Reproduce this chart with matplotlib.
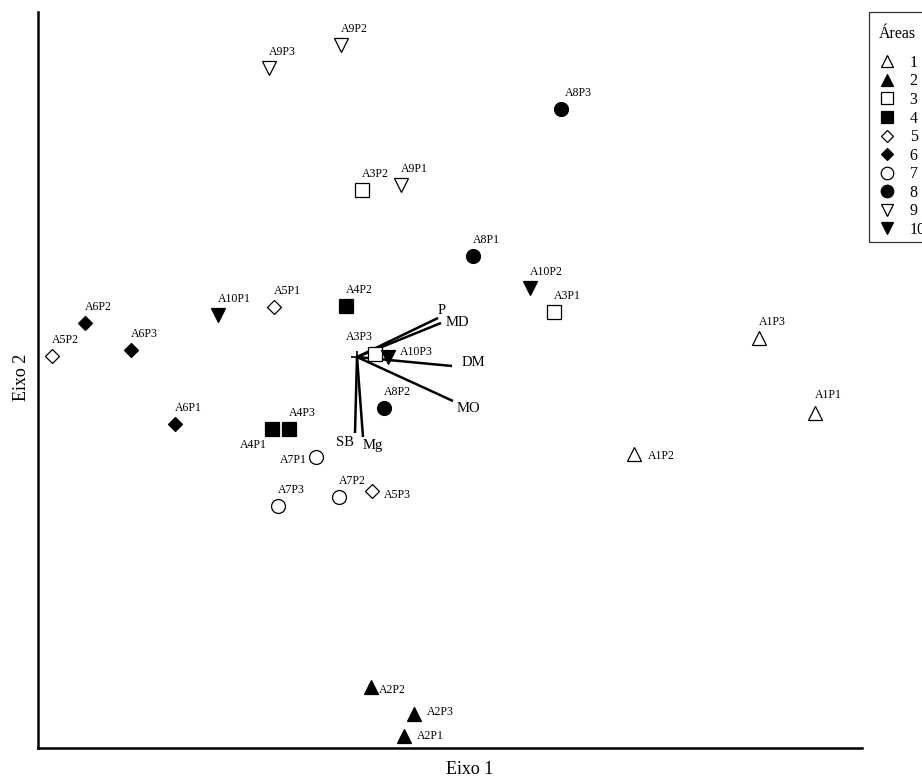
import matplotlib
matplotlib.use("Agg")
import matplotlib.pyplot as plt
from matplotlib.lines import Line2D
from matplotlib.offsetbox import VPacker, HPacker, DrawingArea

plt.rcParams['font.family'] = ['Liberation Serif', 'DejaVu Serif']

# ---- data: ordination scores ----
sites = ["A1P1", "A1P2", "A1P3", "A2P1", "A2P2", "A2P3", "A3P1", "A3P2", "A3P3",
         "A4P1", "A4P2", "A4P3", "A5P1", "A5P2", "A5P3", "A6P1", "A6P2", "A6P3",
         "A7P1", "A7P2", "A7P3", "A8P1", "A8P2", "A8P3", "A9P1", "A9P2", "A9P3",
         "A10P1", "A10P2", "A10P3"]
area = [1, 1, 1, 2, 2, 2, 3, 3, 3, 4, 4, 4, 5, 5, 5, 6, 6, 6, 7, 7, 7,
        8, 8, 8, 9, 9, 9, 10, 10, 10]
axis1 = [4.58, 2.77, 4.02, 0.47, 0.14, 0.57, 1.97, 0.05, 0.18,
         -0.85, -0.11, -0.68, -0.83, -3.05, 0.15, -1.82, -2.72, -2.26,
         -0.41, -0.18, -0.79, 1.16, 0.27, 2.04, 0.44, -0.16, -0.88,
         -1.39, 1.73, 0.31]
axis2 = [-0.56, -0.97, 0.19, -3.79, -3.30, -3.57, 0.45, 1.67, 0.03,
         -0.72, 0.51, -0.72, 0.50, 0.01, -1.34, -0.67, 0.34, 0.07,
         -1.00, -1.40, -1.49, 1.01, -0.51, 2.48, 1.72, 3.12, 2.89,
         0.42, 0.69, 0.00]

variables = ["P", "MD", "DM", "MO", "SB", "Mg"]
var_axis1 = [0.81, 0.84, 0.95, 0.96, -0.02, 0.06]
var_axis2 = [0.39, 0.34, -0.09, -0.44, -0.76, -0.80]

area_labels = ["1", "2", "3", "4", "5", "6", "7", "8", "9", "10"]

# ---- styles ----
marker_of = {1: '^', 2: '^', 3: 's', 4: 's', 5: 'D', 6: 'D', 7: 'o', 8: 'o', 9: 'v', 10: 'v'}
filled = {1: False, 2: True, 3: False, 4: True, 5: False, 6: True, 7: False, 8: True, 9: False, 10: True}
msize = {'^': 10, 'v': 10, 's': 9.5, 'D': 6.8, 'o': 10}

# label offsets in pixels (dx, dy, ha)
default_off = (0, 16, 'left')
label_off = {
    "A4P1": (-19, -16, 'center'),
    "A7P1": (-9, -3, 'right'),
    "A5P3": (12, -4, 'left'),
    "A10P3": (12, 5, 'left'),
    "A3P3": (-16, 17, 'center'),
    "A1P2": (14, -2, 'left'),
    "A2P1": (13, 0, 'left'),
    "A2P2": (8, -3, 'left'),
    "A2P3": (13, 2, 'left'),
    "A8P3": (4, 16, 'left'),
    "A1P1": (0, 18, 'left'),
}
var_off = {
    "P": (4, 8, 'center'),
    "MD": (5, 0, 'left'),
    "DM": (10, 3, 'left'),
    "MO": (4, -7, 'left'),
    "SB": (-10, -10, 'center'),
    "Mg": (0, -8, 'left'),
}

W, H = 922, 780
fig = plt.figure(figsize=(W / 100, H / 100), dpi=100)
ax = fig.add_axes([38 / W, (H - 748) / H, (862 - 38) / W, (748 - 12) / H])
ax.set_xlim(-3.19, 5.05)
ax.set_ylim(-3.91, 3.45)
ax.set_xticks([])
ax.set_yticks([])
for s in ['top', 'right']:
    ax.spines[s].set_visible(False)
for s in ['left', 'bottom']:
    ax.spines[s].set_linewidth(1.8)

# vectors
for name, vx, vy in zip(variables, var_axis1, var_axis2):
    ax.plot([0, vx], [0, vy], color='black', lw=1.8, solid_capstyle='butt', zorder=2)
    dx, dy, ha = var_off[name]
    ax.annotate(name, (vx, vy), xytext=(dx, dy), textcoords='offset pixels',
                ha=ha, va='center', fontsize=10.5, zorder=4)
ax.plot([0], [0], marker='+', color='black', ms=9, mew=1.2, zorder=2)

# points
for name, a, x, y in zip(sites, area, axis1, axis2):
    m = marker_of[a]
    ax.plot([x], [y], linestyle='none', marker=m, ms=msize[m],
            mfc='black' if filled[a] else 'white', mec='black', mew=0.9, zorder=3)
    dx, dy, ha = label_off.get(name, default_off)
    ax.annotate(name, (x, y), xytext=(dx, dy), textcoords='offset pixels',
                ha=ha, va='center', fontsize=8.5, zorder=4)

# legend
handles = []
for i, lab in enumerate(area_labels, start=1):
    m = marker_of[i]
    handles.append(Line2D([], [], linestyle='none', marker=m, ms=msize[m] * 0.9,
                          mfc='black' if filled[i] else 'white', mec='black', mew=0.9))
leg = fig.legend(handles, area_labels, title="Áreas", loc='upper left',
                 bbox_to_anchor=(869 / W, 1 - 12 / H), borderaxespad=0,
                 fontsize=11.5, title_fontsize=11.5,
                 frameon=True, fancybox=False, edgecolor='black', labelspacing=0.16,
                 handlelength=1.0, handletextpad=0.9, borderpad=0.25)
leg.get_frame().set_linewidth(0.9)
leg._legend_box.align = "left"
leg._legend_box.sep = 9
try:
    title_box = leg._legend_title_box
    handle_box = leg._legend_handle_box
    spaced_title = VPacker(children=[DrawingArea(1, 7.5), title_box], pad=0, sep=0, align='left')
    ind_title = HPacker(children=[DrawingArea(4.5, 0.1), spaced_title], pad=0, sep=0, align='top')
    ind_handles = HPacker(children=[DrawingArea(4.5, 0.1), handle_box], pad=0, sep=0, align='top')
    ind_title.set_figure(fig)
    ind_handles.set_figure(fig)
    leg._legend_box._children[0] = ind_title
    leg._legend_box._children[1] = ind_handles
except Exception:
    pass

fig.text(470 / W, 1 - 770 / H, "Eixo 1", ha='center', va='center', fontsize=13)
fig.text(21 / W, 1 - 377 / H, "Eixo 2", ha='center', va='center', fontsize=13, rotation=90)

fig.savefig("out.png", dpi=100)
